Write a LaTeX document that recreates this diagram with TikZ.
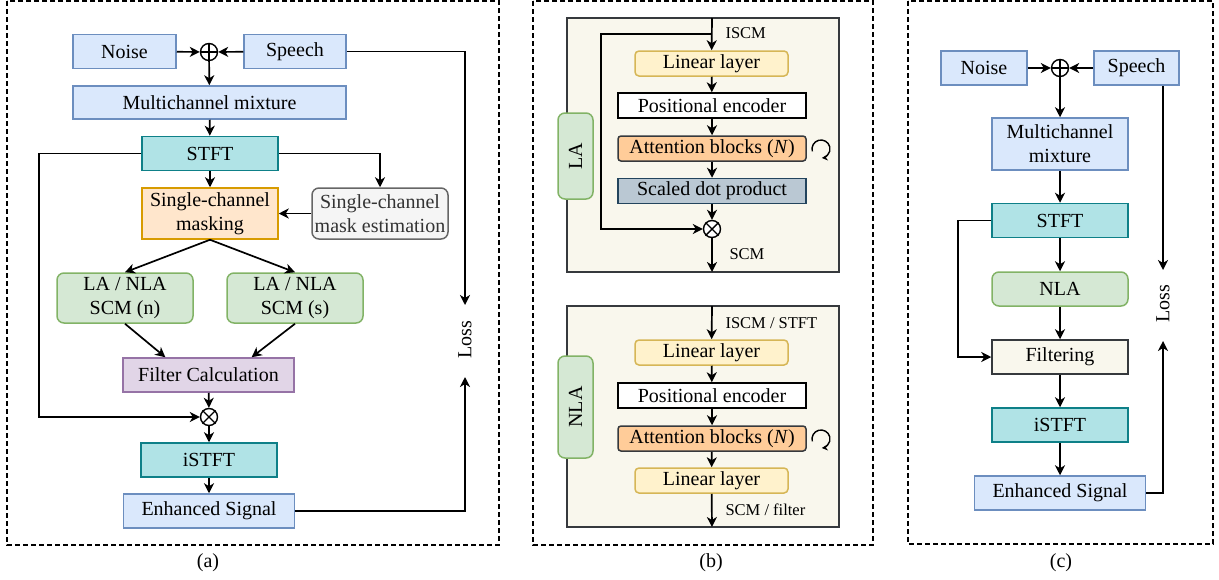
\documentclass[tikz,border=0pt]{standalone}
\usepackage{fontspec}
\setmainfont{Liberation Serif}
\usetikzlibrary{arrows.meta,calc}
\definecolor{blueF}{HTML}{DAE8FC}\definecolor{blueD}{HTML}{6C8EBF}
\definecolor{tealF}{HTML}{B0E3E6}\definecolor{tealD}{HTML}{0E8088}
\definecolor{orgF}{HTML}{FFE6CC}\definecolor{orgD}{HTML}{D79B00}
\definecolor{grayF}{HTML}{F5F5F5}\definecolor{grayD}{HTML}{666666}
\definecolor{grnF}{HTML}{D5E8D4}\definecolor{grnD}{HTML}{82B366}
\definecolor{purF}{HTML}{E1D5E7}\definecolor{purD}{HTML}{9673A6}
\definecolor{yelF}{HTML}{FFF2CC}\definecolor{yelD}{HTML}{D6B656}
\definecolor{attF}{HTML}{FFCC99}\definecolor{darkD}{HTML}{36393D}
\definecolor{sdpF}{HTML}{BAC8D3}\definecolor{sdpD}{HTML}{23445D}
\definecolor{boxF}{HTML}{F9F7ED}
\begin{document}
\begin{tikzpicture}[x=1pt,y=-1pt,font=\fontsize{20}{24}\selectfont]
			\tikzstyle{blk}=[rectangle,draw,line width=1.5pt,inner sep=2pt,align=center,minimum height=34pt]
			\tikzstyle{blue}=[blk,fill=blueF,draw=blueD]
			\tikzstyle{teal}=[blk,fill=tealF,draw=tealD,minimum width=136pt]
			\tikzstyle{grn}=[blk,fill=grnF,draw=grnD,rounded corners=7pt,minimum width=136pt]
			\tikzstyle{yel}=[blk,fill=yelF,draw=yelD,rounded corners=4pt,minimum width=153pt,minimum height=25pt]
			\tikzstyle{wide}=[blk,minimum width=188pt,minimum height=25pt]
			\tikzstyle{tag}=[blk,fill=grnF,draw=grnD,rounded corners=7pt,rotate=90,minimum height=35pt]
			\tikzstyle{cont}=[rectangle,draw=darkD,fill=boxF,line width=1.5pt,minimum width=272pt]
			\tikzstyle{op}=[circle,draw,fill=white,line width=1.4pt,minimum size=17pt,inner sep=0pt]
			\tikzstyle{lbl}=[font=\fontsize{16.5}{18}\selectfont,anchor=west]
			\tikzstyle{arr}=[-{Stealth[length=10pt,width=10pt,inset=3pt]},line width=1.7pt]
			\tikzstyle{frame}=[line width=1.4pt,dash pattern=on 5pt off 3pt]
			\useasboundingbox (0,0) rectangle (1219,579);
			
			% (a)
			\draw[frame] (7,1) rectangle (499,545);
			\node[blue,minimum width=103pt] (noiseA) at (124.5,51.5) {Noise};
			\node[op] (sumA) at (209,52) {};
			\node[blue,minimum width=102pt] (speechA) at (295,51.5) {Speech};
			\node[blue,minimum width=273pt,minimum height=33pt] (mixA) at (209.5,102.5) {Multichannel mixture};
			\node[teal] (stftA) at (210,153.5) {STFT};
			\node[blk,fill=orgF,draw=orgD,minimum width=136pt,minimum height=51pt] (maskA) at (210,213.5) {Single-channel\\masking};
			\node[blk,fill=grayF,draw=grayD,text=black!80,rounded corners=7pt,inner xsep=0pt,minimum width=136pt,minimum height=51pt] (estA) at (380,213.5) {Single-channel\\mask estimation};
			\node[grn,minimum height=50pt] (scmnA) at (125,298) {LA / NLA\\SCM (n)};
			\node[grn,minimum height=50pt] (scmsA) at (295,298) {LA / NLA\\SCM (s)};
			\node[blk,fill=purF,draw=purD,minimum width=171pt] (filtA) at (208.5,375) {Filter Calculation};
			\node[op] (mulA) at (209,417) {};
			\node[teal] (istftA) at (209,460) {iSTFT};
			\node[blue,minimum width=171pt] (enhA) at (209,511) {Enhanced Signal};
			\node[rotate=90] (lossA) at (465,340) {Loss};
			\coordinate (lossAtop) at (465,305);
			\coordinate (lossAbot) at (465,377);
			\coordinate (leftA) at (39,153.5);
			\node (capA) at (208,563) {(a)};
			
			\draw[line width=1.4pt] (sumA.north) -- (sumA.south) (sumA.west) -- (sumA.east);
			\draw[line width=1.4pt] (mulA.north east) -- (mulA.south west) (mulA.north west) -- (mulA.south east);
			\path[arr]
			(noiseA) edge (sumA)
			(speechA) edge (sumA)
			(sumA) edge (mixA)
			(mixA) edge (stftA)
			(stftA) edge (maskA)
			(estA) edge (maskA)
			(maskA.south) edge (scmnA.north)
			(maskA.south) edge (scmsA.north)
			(scmnA.south) edge ($(filtA.north)!0.5!(filtA.north west)$)
			(scmsA.south) edge ($(filtA.north)!0.5!(filtA.north east)$)
			(filtA) edge (mulA)
			(mulA) edge (istftA)
			(istftA) edge (enhA)
			;
			\draw[arr] (stftA.east) -| (estA.north);
			\draw[arr] (stftA.west) -- (leftA) |- (mulA.west);
			\draw[arr] (speechA.east) -| (lossAtop);
			\draw[arr] (enhA.east) -| (lossAbot);
			
			% (b)
			\draw[frame] (533,1) rectangle (873,545);
			\node[cont,minimum height=254pt] (laBox) at (703,145) {};
			\node[tag,minimum width=86pt] (laTag) at (575.5,156) {LA};
			\node[yel] (linA) at (711.5,63.5) {Linear layer};
			\node[wide,fill=white] (posA) at (712,105.5) {Positional encoder};
			\node[wide,fill=attF,draw=darkD,rounded corners=3pt] (attA) at (712,148.5) {Attention blocks (\textit{N})};
			\node[wide,fill=sdpF,draw=sdpD] (sdpA) at (712,191) {Scaled dot product};
			\node[op] (mulB) at (712,229) {};
			\coordinate (inA) at (712,18);
			\coordinate (splitA) at (712,34);
			\coordinate (fbA) at (601,34);
			\coordinate (outA) at (712,272);
			\coordinate (loopA) at (821,149);
			\node[lbl] (iscmA) at (722,33) {ISCM};
			\node[lbl] (scmA) at (726,254) {SCM};
			
			\node[cont,minimum height=221pt] (nlaBox) at (703,416.5) {};
			\node[tag,minimum width=102pt] (nlaTag) at (575.5,407) {NLA};
			\node[yel] (linB) at (711.5,352.5) {Linear layer};
			\node[wide,fill=white] (posB) at (712,395.5) {Positional encoder};
			\node[wide,fill=attF,draw=darkD,rounded corners=3pt] (attB) at (712,438.5) {Attention blocks (\textit{N})};
			\node[yel] (linC) at (711.5,480.5) {Linear layer};
			\coordinate (inB) at (712,306);
			\coordinate (outB) at (712,527);
			\coordinate (loopB) at (821,439);
			\node[lbl] (iscmB) at (722,323) {ISCM / STFT};
			\node[lbl] (scmB) at (722,510) {SCM / filter};
			\node (capB) at (711,563) {(b)};
			
			\draw[line width=1.4pt] (mulB.north east) -- (mulB.south west) (mulB.north west) -- (mulB.south east);
			\path[arr]
			(inA) edge (linA)
			(linA) edge (posA)
			(posA) edge (attA)
			(attA) edge (sdpA)
			(sdpA) edge (mulB)
			(mulB) edge (outA)
			(inB) edge (linB)
			(linB) edge (posB)
			(posB) edge (attB)
			(attB) edge (linC)
			(linC) edge (outB)
			;
			\draw[arr] (splitA) -- (fbA) |- (mulB.west);
			\draw[line width=1.4pt,-{Stealth[length=6pt,width=6pt]}] ($(loopA)+(165:9)$) arc (165:445:9);
			\draw[line width=1.4pt,-{Stealth[length=6pt,width=6pt]}] ($(loopB)+(165:9)$) arc (165:445:9);
			
			% (c)
			\draw[frame] (908,1) rectangle (1213,544);
			\node[blue,minimum width=86pt] (noiseC) at (984,68) {Noise};
			\node[op] (sumC) at (1060,68) {};
			\node[blue,minimum width=85pt] (speechC) at (1136.5,68) {Speech};
			\node[blue,minimum width=136pt,minimum height=52pt] (mixC) at (1060,144) {Multichannel\\mixture};
			\node[teal] (stftC) at (1060,220.5) {STFT};
			\node[grn] (nlaC) at (1060,289) {NLA};
			\node[blk,fill=boxF,draw=darkD,minimum width=136pt] (filtC) at (1060,357) {Filtering};
			\node[teal] (istftC) at (1060,425) {iSTFT};
			\node[blue,minimum width=171pt] (enhC) at (1060,493) {Enhanced Signal};
			\node[rotate=90] (lossC) at (1163,304) {Loss};
			\coordinate (lossCtop) at (1163,270);
			\coordinate (lossCbot) at (1163,341);
			\coordinate (leftC) at (958,220.5);
			\node (capC) at (1061,563) {(c)};
			
			\draw[line width=1.4pt] (sumC.north) -- (sumC.south) (sumC.west) -- (sumC.east);
			\path[arr]
			(noiseC) edge (sumC)
			(speechC) edge (sumC)
			(sumC) edge (mixC)
			(mixC) edge (stftC)
			(stftC) edge (nlaC)
			(nlaC) edge (filtC)
			(filtC) edge (istftC)
			(istftC) edge (enhC)
			;
			\draw[arr] (stftC.west) -- (leftC) |- (filtC.west);
			\draw[arr] (speechC.south -| lossCtop) -- (lossCtop);
			\draw[arr] (enhC.east) -| (lossCbot);
		\end{tikzpicture}
\end{document}
